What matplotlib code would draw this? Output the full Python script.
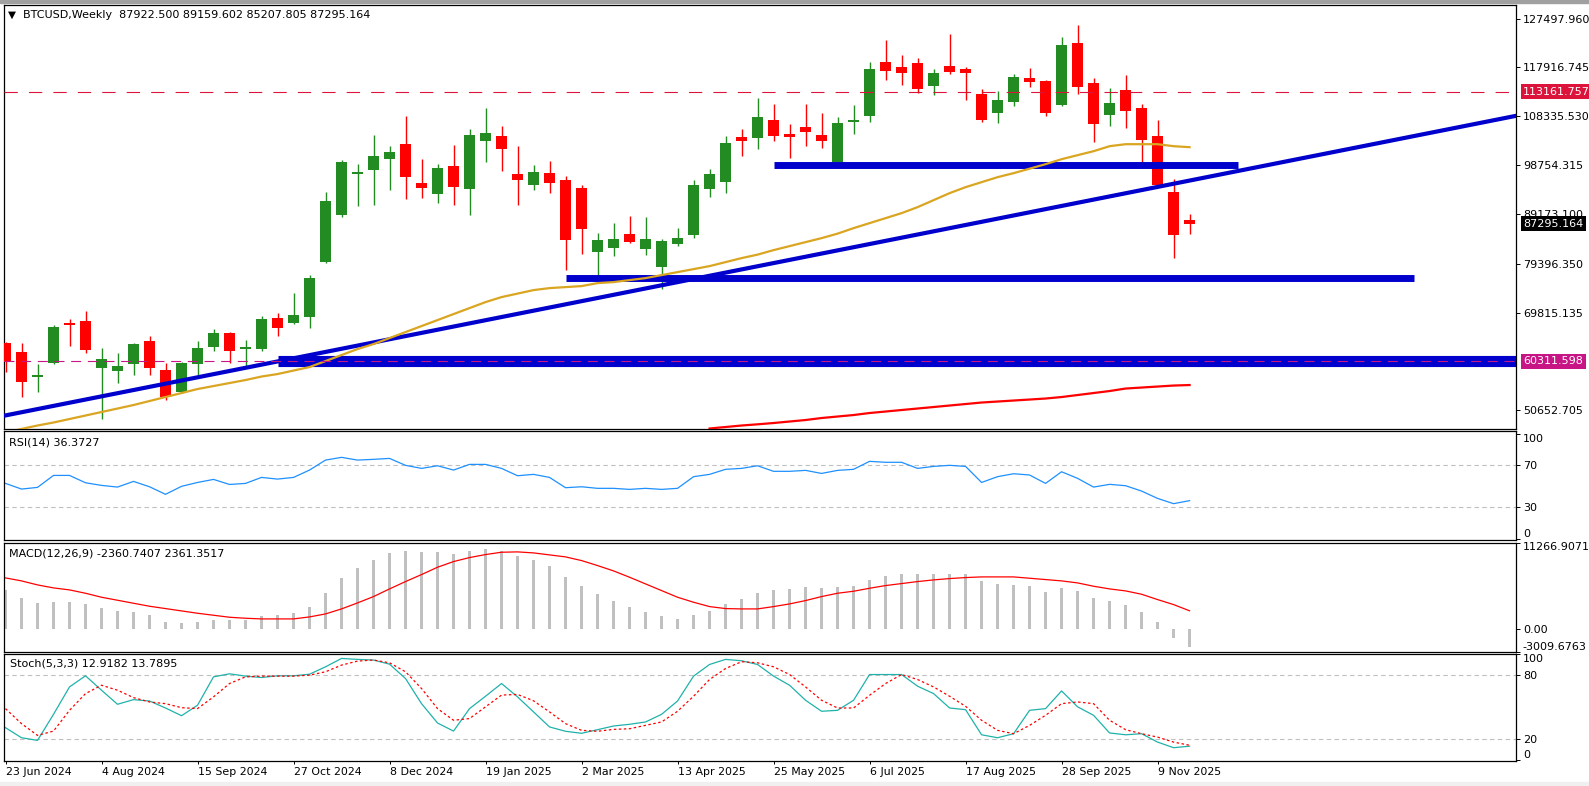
import numpy as np
import matplotlib
matplotlib.use("Agg")
import matplotlib.pyplot as plt
import matplotlib.transforms as mtransforms
from matplotlib.patches import Rectangle

plt.rcParams['font.family'] = ['DejaVu Sans']
plt.rcParams['font.size'] = 8

# weekly BTCUSD candles, 23 Jun 2024 .. 23 Nov 2025
opens = [63847, 62082, 57182, 59925, 67766, 68158, 58946, 58358, 59728, 64239,
         58554, 54241, 59728, 63063, 65807, 62671, 62671, 68747, 67766, 68943,
         79725, 88939, 96976, 97760, 99917, 102857, 95212, 93055, 98544, 94037,
         103445, 104425, 96976, 94819, 97172, 95800, 94229, 81685, 82469, 85214,
         82273, 78745, 83254, 85018, 94037, 95408, 104229, 104033, 107561, 104817,
         106189, 104621, 99328, 107169, 108346, 118931, 117951, 118735, 114226, 118147,
         117559, 112658, 108934, 111090, 115795, 115207, 110502, 122656, 114815, 108542,
         113442, 109914, 104425, 93447, 87922.5]
highs = [64043, 63847, 59728, 67374, 68550, 70119, 62867, 61887, 63847, 65219,
         59925, 60122, 64239, 66591, 66003, 64435, 69140, 69727, 73648, 77177,
         93447, 99720, 98936, 104621, 102465, 108346, 99917, 98936, 102661, 105797,
         109914, 106385, 102465, 98740, 99524, 96584, 94819, 85410, 87370, 88743,
         88547, 84234, 86390, 95800, 97956, 104425, 105797, 111874, 110698, 106781,
         110698, 108934, 108149, 110502, 118931, 123244, 120303, 119715, 117559, 124420,
         117951, 113638, 113246, 116579, 117755, 115403, 123832, 126184, 115795, 113834,
         116383, 110698, 107561, 95996, 89159.602]
lows = [58160, 53261, 54241, 59800, 63257, 61887, 48948, 56005, 57574, 57574,
        52673, 54100, 57378, 62279, 59925, 59142, 62279, 65219, 67500, 66787,
        79500, 88547, 90703, 90899, 93839, 92075, 92271, 91290, 90899, 88939,
        99328, 97564, 90899, 93839, 93251, 78157, 81293, 76393, 80901, 83450,
        81097, 74432, 82862, 84430, 92467, 93251, 100505, 101877, 103445, 100113,
        102465, 102073, 98740, 104817, 107169, 115403, 114422, 112854, 112462, 116579,
        111482, 107169, 106973, 110306, 114030, 108346, 110306, 112658, 103249, 106385,
        105993, 98740, 94700, 80509, 85207.805]
closes = [60122, 56201, 57574, 66982, 67374, 62475, 60710, 59338, 63650, 58946,
          53261, 59925, 62867, 65807, 62279, 63063, 68550, 66787, 69335, 76588,
          91683, 99328, 97368, 100505, 101289, 96388, 94229, 98152, 94429, 104621,
          105013, 101877, 95800, 97368, 95212, 84038, 86194, 84038, 84234, 83646,
          84234, 83842, 84430, 94819, 96976, 103053, 103445, 108149, 104425, 104229,
          105205, 103445, 106973, 107561, 117559, 117167, 116775, 113638, 116775, 116971,
          116775, 107561, 111482, 115991, 115011, 108934, 122264, 114030, 106781, 110894,
          109326, 103641, 94819, 85018, 87295.164]

ma_gold = [46300, 47000, 47674, 48262, 48948, 49634, 50321, 51007, 51693, 52477,
           53261, 54045, 54829, 55417, 56005, 56594, 57280, 57770, 58456, 59142,
           60318, 61494, 62671, 63651, 64827, 66003, 67179, 68355, 69531, 70708,
           71884, 72864, 73550, 74236, 74628, 74824, 75020, 75608, 75805, 76197,
           76589, 77177, 77765, 78353, 78941, 79725, 80509, 81195, 82078, 82862,
           83646, 84430, 85312, 86390, 87370, 88350, 89331, 90507, 91879, 93251,
           94427, 95407, 96388, 97172, 98054, 98936, 99916, 100701, 101485, 102465,
           102857, 102857, 102857, 102465, 102269]
ma_red_start = 44
ma_red = [47086, 47380, 47674, 47909, 48164, 48458, 48752, 49144, 49438, 49732,
          50125, 50419, 50713, 51007, 51301, 51595, 51889, 52183, 52379, 52575,
          52771, 52967, 53261, 53653, 54045, 54437, 54927, 55123, 55319, 55515, 55613]

# drawn objects
trend_pts = [(0, 49654), (74, 95721)]
bands = [(98800, 48, 77, 5.0), (76550, 35, 88, 5.0), (60400, 17, 95, 8.0)]
level_top = 113161.757
level_low = 60311.598
last_price = 87295.164
main_ticks = [127497.960, 117916.745, 108335.530, 98754.315, 89173.100,
              79396.350, 69815.135, 50652.705]

rsi = [52.8, 47.4, 49.0, 60.4, 60.4, 53.4, 50.9, 49.3, 54.7, 49.6,
       42.4, 50.0, 53.7, 56.6, 51.8, 52.8, 58.5, 56.9, 58.5, 65.5,
       75.0, 77.6, 75.0, 75.7, 76.6, 70.0, 67.1, 69.6, 65.5, 70.9,
       70.9, 67.1, 60.1, 61.4, 58.5, 48.7, 49.6, 48.1, 48.1, 47.1,
       48.1, 47.1, 48.1, 59.2, 61.4, 66.2, 67.1, 69.6, 64.3, 64.3,
       65.2, 62.3, 65.2, 66.2, 73.8, 72.9, 72.9, 67.1, 69.0, 70.0,
       69.0, 53.7, 59.2, 62.0, 60.8, 52.8, 63.9, 57.6, 49.3, 51.9,
       50.6, 45.5, 38.5, 33.5, 36.3727]

macd_hist = [5129, 4086, 3434, 3565, 3565, 3304, 2782, 2391, 2260, 1869,
             956, 826, 956, 1217, 1217, 1217, 1739, 1869, 2130, 2912,
             4738, 6694, 7998, 9042, 9955, 10215, 10085, 10085, 9824, 10215,
             10476, 10215, 9563, 9042, 8259, 6825, 5651, 4608, 3695, 2912,
             2260, 1739, 1348, 1869, 2391, 3304, 3956, 4738, 5129, 5260,
             5521, 5390, 5521, 5651, 6434, 6955, 7216, 7216, 7216, 7216,
             7216, 6303, 5912, 5782, 5651, 4869, 5390, 4999, 4086, 3695,
             3173, 2260, 956, -1130, -2360.7407]
macd_signal = [6651, 6260, 5738, 5347, 5086, 4651, 4130, 3738, 3347, 2956,
               2652, 2347, 2043, 1782, 1521, 1391, 1304, 1304, 1304, 1565,
               1956, 2608, 3391, 4217, 5216, 6173, 7086, 8042, 8781, 9303,
               9694, 9998, 10042, 9911, 9650, 9390, 8911, 8259, 7564, 6738,
               5868, 4999, 4130, 3478, 2912, 2652, 2608, 2608, 2912, 3260,
               3695, 4217, 4651, 4912, 5303, 5651, 5912, 6173, 6390, 6564,
               6694, 6781, 6781, 6781, 6607, 6434, 6260, 5999, 5564, 5216,
               4956, 4521, 3825, 3173, 2361.3517]
macd_range = (-3009.6763, 11266.9071)

stoch_k = [30.4, 20.9, 18.4, 43.0, 68.9, 79.4, 65.8, 52.5, 56.9, 55.6,
           49.0, 41.7, 51.6, 78.4, 81.3, 79.1, 77.8, 79.4, 79.4, 80.9,
           87.9, 95.8, 94.9, 94.3, 90.4, 76.8, 53.1, 34.8, 27.2, 48.4,
           60.1, 72.1, 59.5, 45.3, 31.1, 27.0, 25.1, 28.5, 32.0, 33.6,
           35.8, 43.0, 55.6, 79.1, 90.1, 94.9, 93.6, 90.1, 79.1, 70.5,
           56.3, 45.9, 46.8, 56.3, 80.6, 80.6, 80.6, 69.6, 62.6, 49.0,
           47.4, 23.7, 20.9, 24.7, 46.8, 48.4, 65.1, 50.1, 42.1, 25.4,
           23.7, 24.7, 16.8, 11.5, 12.9182]
stoch_d = [48.4, 34.2, 23.1, 27.2, 46.8, 62.6, 70.5, 65.8, 58.8, 54.7,
           53.1, 49.3, 48.4, 59.5, 72.1, 78.4, 79.1, 79.1, 79.1, 80.0,
           83.2, 89.5, 93.3, 94.3, 91.7, 83.2, 67.4, 48.4, 37.4, 39.0,
           50.1, 61.2, 61.8, 55.8, 45.3, 34.2, 27.9, 27.0, 28.8, 29.4,
           32.6, 35.8, 45.9, 60.1, 75.9, 86.3, 92.7, 91.7, 87.9, 80.6,
           68.9, 56.3, 49.0, 49.0, 61.0, 72.1, 80.6, 75.9, 68.9, 60.1,
           50.6, 37.4, 27.9, 24.7, 32.6, 42.1, 53.1, 54.7, 53.1, 37.4,
           28.5, 24.7, 21.5, 16.8, 13.7895]

date_labels = ['23 Jun 2024', '4 Aug 2024', '15 Sep 2024', '27 Oct 2024', '8 Dec 2024',
               '19 Jan 2025', '2 Mar 2025', '13 Apr 2025', '25 May 2025', '6 Jul 2025',
               '17 Aug 2025', '28 Sep 2025', '9 Nov 2025']
date_pos = list(range(0, 75, 6))

W, H = 1589, 786
LEFT, RIGHT = 3.5, 1516
fig = plt.figure(figsize=(W / 100, H / 100), dpi=100)
fig.patch.set_facecolor('white')


def panel(top, bottom):
    a = fig.add_axes([LEFT / W, 1 - bottom / H, (RIGHT - LEFT) / W, (bottom - top) / H])
    a.set_xlim(-0.125, 94.4)
    for s in a.spines.values():
        s.set_linewidth(0.9)
        s.set_color('black')
    a.yaxis.tick_right()
    a.tick_params(axis='y', direction='out', length=3, width=0.7, pad=2, labelsize=8)
    a.tick_params(axis='x', bottom=False, labelbottom=False)
    return a


def ftext(x, y, s, size=8):
    fig.text(x / W, 1 - y / H, s, va='center', ha='left', fontsize=size)


# ---------------- main price panel ----------------
ax = panel(5, 429)
ax.set_ylim(46990, 130160)
x = np.arange(len(closes))
o, h, l, c = map(np.array, (opens, highs, lows, closes))
col = np.where(c >= o, '#228B22', '#FF0000')
ax.vlines(x, l, h, colors=col, lw=1.0, zorder=3)
body_lo = np.minimum(o, c)
body_h = np.maximum(np.abs(c - o), 300)
ax.bar(x, body_h, bottom=body_lo, width=0.69, color=col, lw=0, zorder=4)

for lvl, x0, x1, lw in bands:
    hl = ax.hlines(lvl, x0, x1, colors='#0000CD', lw=lw, zorder=5)
    hl.set_capstyle('butt')
ax.axline(trend_pts[0], trend_pts[1], color='#0000CD', lw=3.0, zorder=5)

ax.plot(x, ma_gold, color='#DAA520', lw=1.6, zorder=6)
ax.plot(np.arange(ma_red_start, ma_red_start + len(ma_red)), ma_red,
        color='#FF0000', lw=1.6, zorder=6)

ax.axhline(level_top, color='#DC143C', lw=0.8, dashes=(12, 10), zorder=6)
ax.axhline(level_low, color='#C71585', lw=0.8, dashes=(9, 6), zorder=7)

ax.set_yticks(main_ticks)
ax.set_yticklabels([f'{v:.3f}' for v in main_ticks])

tr = mtransforms.blended_transform_factory(ax.transAxes, ax.transData)
for val, fc in ((level_top, '#DC143C'), (level_low, '#C71585'), (last_price, '#000000')):
    ax.text(1.0048, val, f'{val:.3f}', transform=tr, ha='left', va='center', fontsize=8,
            color='white', clip_on=False, zorder=10,
            bbox=dict(boxstyle='square,pad=0.22', fc=fc, ec='none'))

ftext(8, 14.5, '\u25BC', size=7.5)
ftext(23, 14.5, 'BTCUSD,Weekly  87922.500 89159.602 85207.805 87295.164')

# ---------------- RSI ----------------
ax_rsi = panel(431, 540)
ax_rsi.set_ylim(-1.1, 102.7)
for lv in (70, 30):
    ax_rsi.axhline(lv, color='#C0C0C0', lw=0.8, dashes=(4, 3))
ax_rsi.plot(x, rsi, color='#1E90FF', lw=0.9)
ax_rsi.set_yticks([0, 30, 70, 100])
ax_rsi.set_yticklabels(['0', '30', '70', '100'])
ftext(9, 442.5, 'RSI(14) 36.3727')

# ---------------- MACD ----------------
ax_macd = panel(542.5, 652)
ax_macd.set_ylim(*macd_range)
ax_macd.bar(x, macd_hist, width=0.19, color='#C0C0C0', lw=0)
ax_macd.plot(x, macd_signal, color='#FF0000', lw=0.9)
ax_macd.set_yticks([macd_range[0], 0, macd_range[1]])
ax_macd.set_yticklabels([f'{macd_range[0]:.4f}', '0.00', f'{macd_range[1]:.4f}'])
ftext(9, 553.5, 'MACD(12,26,9) -2360.7407 2361.3517')

# ---------------- Stochastic ----------------
ax_st = panel(654, 760.5)
ax_st.set_ylim(-0.6, 100)
for lv in (80, 20):
    ax_st.axhline(lv, color='#C0C0C0', lw=0.8, dashes=(4, 3))
ax_st.plot(x, stoch_k, color='#20B2AA', lw=0.9)
ax_st.plot(x, stoch_d, color='#FF0000', lw=0.9, dashes=(2, 2))
ax_st.set_yticks([0, 20, 80, 100])
ax_st.set_yticklabels(['0', '20', '80', '100'])
ftext(9.5, 664, 'Stoch(5,3,3) 12.9182 13.7895')

ax_st.set_xticks(date_pos)
ax_st.set_xticklabels(date_labels, ha='left', fontsize=7.9)
ax_st.tick_params(axis='x', bottom=True, labelbottom=True, direction='out',
                  length=2.5, width=0.7, pad=2)

# clamp the end labels inside each indicator panel, as the terminal does
for a in (ax_rsi, ax_macd, ax_st):
    labs = a.get_yticklabels()
    labs[0].set_va('bottom')
    labs[-1].set_va('top')

# window frame strips
fig.patches.append(Rectangle((0, 1 - 2.5 / H), 1, 2.5 / H, transform=fig.transFigure,
                             color='#A0A0A0', zorder=0))
fig.patches.append(Rectangle((0, 0), 1, 4 / H, transform=fig.transFigure,
                             color='#F0F0F0', zorder=0))

fig.savefig('out.png', dpi=100)
